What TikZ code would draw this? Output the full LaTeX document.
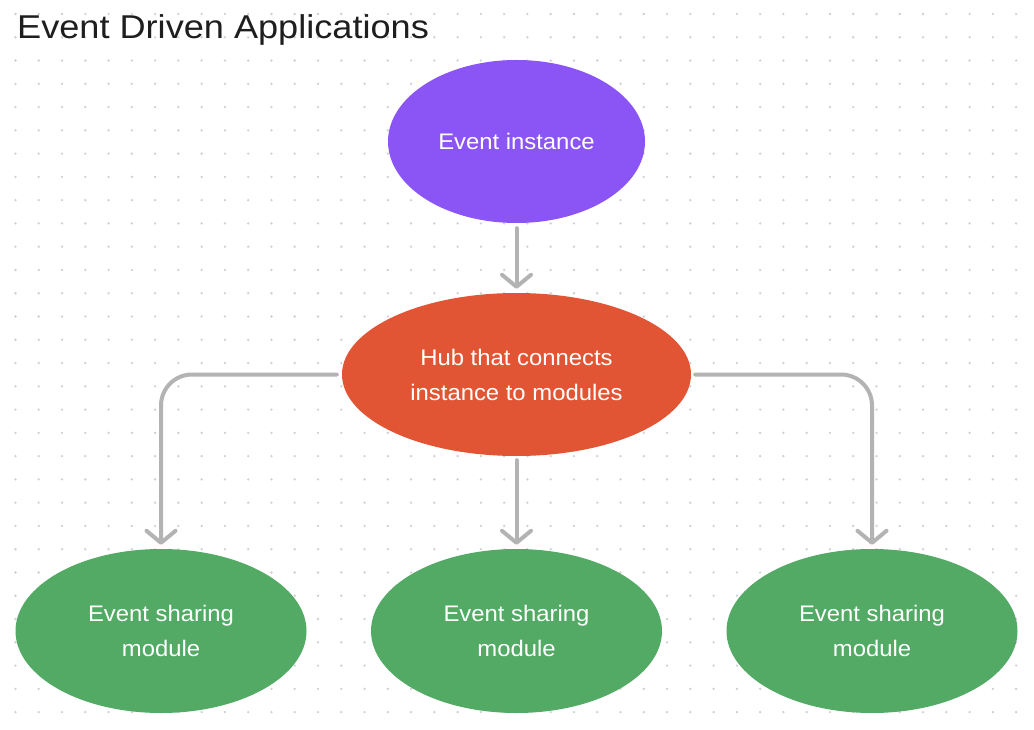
\documentclass[tikz,border=0pt]{standalone}
\usepackage{fontspec}
\setmainfont[FakeStretch=1.06]{Liberation Sans}
\newfontfamily\titlefont[FakeStretch=1.095]{Liberation Sans}
\usetikzlibrary{shapes.geometric,arrows.meta}
\definecolor{purpleev}{HTML}{8B55F5}
\definecolor{orangehub}{HTML}{E15535}
\definecolor{greenmod}{HTML}{52AA65}
\definecolor{arrowgray}{HTML}{B3B3B3}
\definecolor{dotgray}{HTML}{D0D0D0}
\definecolor{titlecol}{HTML}{1E1E1E}
\tikzset{
  blob/.style={ellipse, inner sep=0pt, text=white, align=center,
    font=\fontsize{22.5}{35}\selectfont},
  conn/.style={draw=arrowgray, line width=4pt, line cap=round, line join=round,
    -{Straight Barb[length=12pt, width=29pt, round]}},
}
\begin{document}
\begin{tikzpicture}[x=1pt, y=-1pt]
\useasboundingbox (0,0) rectangle (1034,730);
\fill[white] (0,0) rectangle (1034,730);
% dot grid
\foreach \i in {0,...,43}{
  \foreach \j in {0,...,30}{
    \fill[dotgray] ({15.5+23.27*\i},{14+23.27*\j}) circle (1.3pt);
  }
}
\node[anchor=base west, text=titlecol, font=\titlefont\fontsize{33}{40}\selectfont, inner sep=0pt] (title) at (17,39) {Event Driven Applications};
\node[blob, fill=purpleev, minimum width=257pt, minimum height=163pt] (ev) at (516.5,141.5) {Event instance};
\node[blob, fill=orangehub, minimum width=349pt, minimum height=163pt] (hub) at (516.5,374.5) {Hub that connects\\instance to modules};
\node[blob, fill=greenmod, minimum width=291pt, minimum height=164pt] (m1) at (161,631) {Event sharing\\module};
\node[blob, fill=greenmod, minimum width=291pt, minimum height=164pt] (m2) at (516.5,631) {Event sharing\\module};
\node[blob, fill=greenmod, minimum width=291pt, minimum height=164pt] (m3) at (872,631) {Event sharing\\module};
\draw[conn, shorten <=5pt, shorten >=4pt] (ev.south) -- (hub.north);
\draw[conn, shorten <=4pt, shorten >=4pt] (hub.south) -- (m2.north);
\draw[conn, rounded corners=31pt, shorten >=4pt] ([xshift=-5pt]hub.west) -| (m1.north);
\draw[conn, rounded corners=31pt, shorten >=4pt] ([xshift=4pt]hub.east) -| (m3.north);
\end{tikzpicture}
\end{document}
